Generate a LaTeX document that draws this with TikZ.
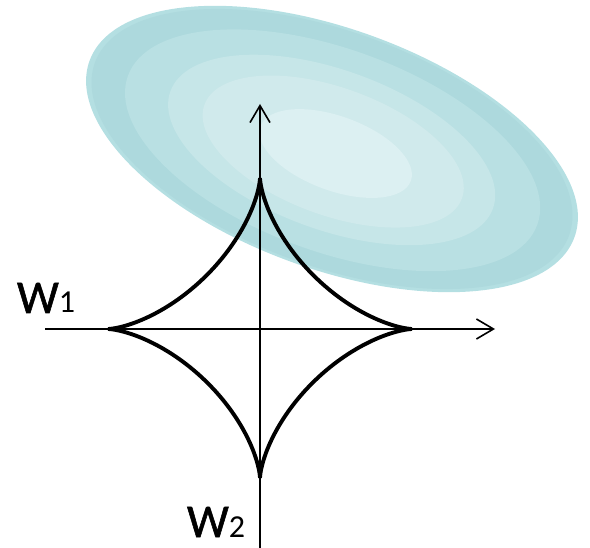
\documentclass[tikz,border=0pt]{standalone}
\usepackage{fontspec}
\setmainfont{Carlito}
\usetikzlibrary{arrows.meta}
\definecolor{rim}{HTML}{B4DFE2}
\definecolor{bandA}{HTML}{ADD9DD}
\definecolor{bandB}{HTML}{B9E0E3}
\definecolor{bandC}{HTML}{C6E6E8}
\definecolor{bandD}{HTML}{D0EAEC}
\definecolor{bandE}{HTML}{DCF0F2}
\tikzset{
  axisline/.style={line width=1.6pt, -{Straight Barb[length=17pt,width=20pt,line width=1.6pt]}},
  astroidarc/.style={line width=3.9pt, line cap=butt, line join=round},
  axlabel/.style={anchor=base west, inner sep=0pt, outer sep=0pt, text=black},
}
\newcommand{\bigW}{{\fontsize{47}{47}\selectfont\addfontfeature{FakeBold=1.2}W}}
\newcommand{\smallidx}[1]{{\fontsize{32}{32}\selectfont #1}}
\begin{document}
\begin{tikzpicture}[x=1pt,y=-1pt]
\useasboundingbox (0,0) rectangle (590,548);
% contour ellipse
\begin{scope}[rotate around={-20:(332,149)}]
  \fill[rim]   (332,149) ellipse [x radius=258, y radius=120];
  \fill[bandA] (332,149) ellipse [x radius=252.3, y radius=117.4];
  \fill[bandB] (333,150) ellipse [x radius=217.8, y radius=101.3];
  \fill[bandC] (332,150) ellipse [x radius=171.6, y radius=79.8];
  \fill[bandD] (334,151) ellipse [x radius=137.0, y radius=63.7];
  \fill[bandE] (337,152) ellipse [x radius=80.0, y radius=37.2];
\end{scope}
% axes
\coordinate (o) at (260,329);
\coordinate (xs) at (45,329);
\coordinate (xe) at (495,329);
\coordinate (ys) at (260,548);
\coordinate (ye) at (260,104);
\draw[axisline] (xs) -- (xe);
\draw[axisline] (ys) -- (ye);
% astroid
\draw[astroidarc] plot[domain=0:90,samples=120,variable=\t]
  ({260+152*cos(\t)*cos(\t)*cos(\t)},{329-151*sin(\t)*sin(\t)*sin(\t)});
\draw[astroidarc] plot[domain=90:180,samples=120,variable=\t]
  ({260+152*cos(\t)*cos(\t)*cos(\t)},{329-151*sin(\t)*sin(\t)*sin(\t)});
\draw[astroidarc] plot[domain=180:270,samples=120,variable=\t]
  ({260+152*cos(\t)*cos(\t)*cos(\t)},{329-149*sin(\t)*sin(\t)*sin(\t)});
\draw[astroidarc] plot[domain=270:360,samples=120,variable=\t]
  ({260+152*cos(\t)*cos(\t)*cos(\t)},{329-149*sin(\t)*sin(\t)*sin(\t)});
% labels
\node[axlabel] (w1) at (17,313) {\bigW\smallidx{1}};
\node[axlabel] (w2) at (187,537) {\bigW\smallidx{2}};
\end{tikzpicture}
\end{document}
